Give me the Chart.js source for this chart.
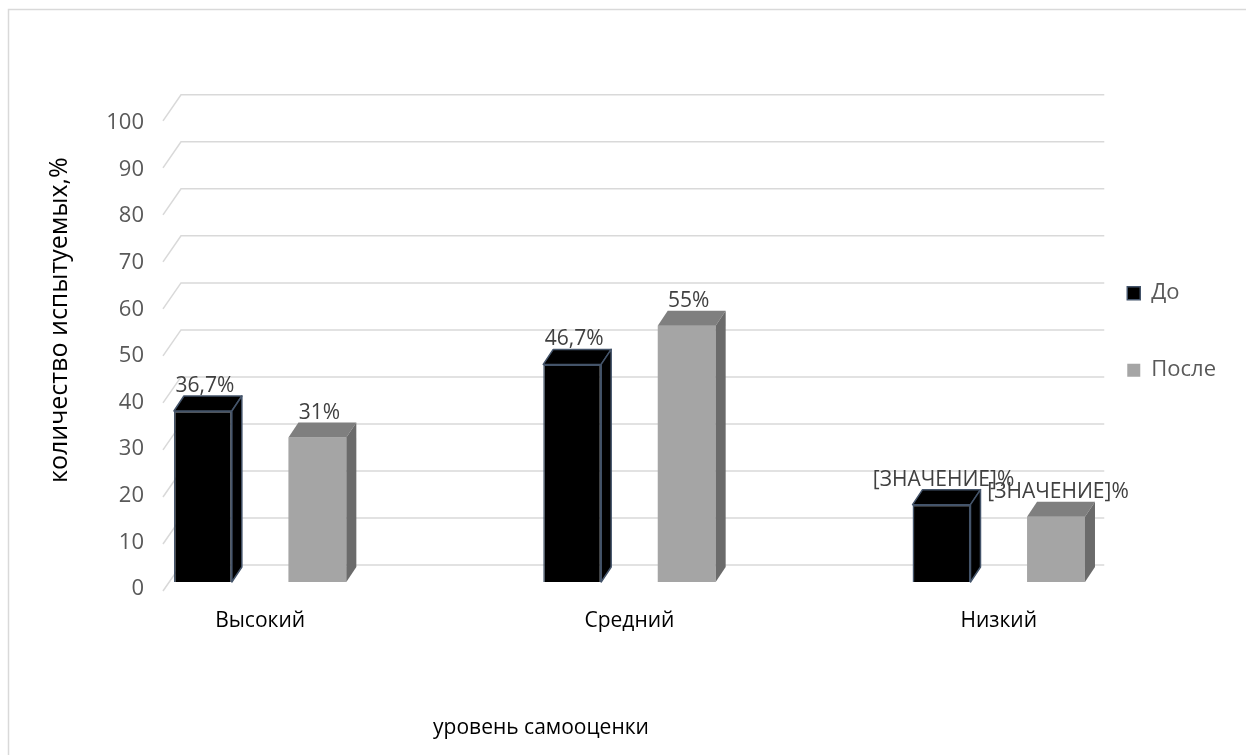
<!DOCTYPE html>
<html lang="ru">
<head>
<meta charset="utf-8">
<title>Уровень самооценки</title>
<script src="https://cdn.jsdelivr.net/npm/chart.js@4.4.1/dist/chart.umd.min.js"></script>
<style>
  html, body { margin: 0; padding: 0; background: #ffffff; }
  #wrap { width: 1246px; height: 755px; position: relative; }
</style>
</head>
<body>
<div id="wrap"><canvas id="chart" width="1246" height="755"></canvas></div>
<script>
// ---- data ----
const categories = ['Высокий', 'Средний', 'Низкий'];
const seriesNames = ['До', 'После'];
const beforeValues = [36.7, 46.7, 16.6];
const afterValues = [31, 55, 14];
// value labels as printed above the bars (the last group shows an unfilled field code)
const beforeLabels = ['36,7%', '46,7%', '[ЗНАЧЕНИЕ]%'];
const afterLabels = ['31%', '55%', '[ЗНАЧЕНИЕ]%'];
const yMin = 0;
const yMax = 100;
const yStep = 10;
const xTitle = 'уровень самооценки';
const yTitle = 'количество испытуемых,%';

// ---- look ----
const FAMILY = '"Open Sans", "Noto Sans", sans-serif';
const FONT = { family: FAMILY, size: 21 };
const TICK_FONT = { family: FAMILY, size: 22 };
const Y_TITLE_SIZE = 25;
const DEPTH = { dx: 10, dy: 15 };              // bar extrusion
const WALL = { dx: 18, dy: 26, back: 17, right: 32, k: 1.009 };
const TITLES = { x: { cx: 541, cy: 728 }, y: { x: 60, start: 483 } };
const faces = [
  { front: '#000000', top: '#000000', side: '#000000', edge: '#44546a', edgeWidth: 1.5 },
  { front: '#a5a5a5', top: '#7f7f7f', side: '#6b6b6b', edge: null, edgeWidth: 0 }
];
const seriesValues = [beforeValues, afterValues];
const seriesLabels = [beforeLabels, afterLabels];

function poly(ctx, pts, fill, edge, w) {
  ctx.beginPath();
  ctx.moveTo(pts[0][0], pts[0][1]);
  for (let i = 1; i < pts.length; i++) ctx.lineTo(pts[i][0], pts[i][1]);
  ctx.closePath();
  ctx.fillStyle = fill;
  ctx.fill();
  if (edge) {
    ctx.strokeStyle = edge;
    ctx.lineWidth = w;
    ctx.lineJoin = 'round';
    ctx.stroke();
  }
}

// outer frame of the chart
const frame = {
  id: 'frame',
  beforeDraw(chart) {
    const ctx = chart.ctx;
    ctx.save();
    ctx.fillStyle = '#ffffff';
    ctx.fillRect(0, 0, chart.width, chart.height);
    ctx.strokeStyle = '#d9d9d9';
    ctx.lineWidth = 1.5;
    ctx.beginPath();
    ctx.moveTo(8.5, chart.height);
    ctx.lineTo(8.5, 9.5);
    ctx.lineTo(chart.width, 9.5);
    ctx.stroke();
    ctx.restore();
  }
};

// back wall + floor-edge gridlines of the 3D box
const walls = {
  id: 'walls',
  beforeDatasetsDraw(chart) {
    const ctx = chart.ctx;
    const ys = chart.scales.y;
    const area = chart.chartArea;
    const zero = ys.getPixelForValue(yMin);
    ctx.save();
    ctx.strokeStyle = '#d9d9d9';
    ctx.lineWidth = 1.5;
    for (let v = yMin; v <= yMax; v += yStep) {
      const p = ys.getPixelForValue(v);
      const back = zero - WALL.back - (zero - p) * WALL.k;
      const front = back + WALL.dy;
      ctx.beginPath();
      ctx.moveTo(area.left, front);
      ctx.lineTo(area.left + WALL.dx, back);
      ctx.lineTo(area.right + WALL.right, back);
      ctx.stroke();
    }
    ctx.restore();
  }
};

// top and side faces of every bar, value labels and axis titles
const bars3d = {
  id: 'bars3d',
  afterDatasetsDraw(chart) {
    const ctx = chart.ctx;
    ctx.save();
    chart.data.datasets.forEach((ds, di) => {
      const meta = chart.getDatasetMeta(di);
      const f = faces[di];
      meta.data.forEach((bar) => {
        const { x, y, base, width } = bar.getProps(['x', 'y', 'base', 'width'], true);
        const l = x - width / 2, r = x + width / 2;
        poly(ctx, [[l, y], [l + DEPTH.dx, y - DEPTH.dy], [r + DEPTH.dx, y - DEPTH.dy], [r, y]], f.top, f.edge, f.edgeWidth);
        poly(ctx, [[r, y], [r + DEPTH.dx, y - DEPTH.dy], [r + DEPTH.dx, base - DEPTH.dy], [r, base]], f.side, f.edge, f.edgeWidth);
      });
    });
    ctx.restore();
  },
  afterDraw(chart) {
    const ctx = chart.ctx;
    ctx.save();
    ctx.font = `${FONT.size}px ${FONT.family}`;
    ctx.fillStyle = '#404040';
    ctx.textAlign = 'center';
    ctx.textBaseline = 'middle';
    chart.data.datasets.forEach((ds, di) => {
      const meta = chart.getDatasetMeta(di);
      meta.data.forEach((bar, i) => {
        const { x, y } = bar.getProps(['x', 'y'], true);
        ctx.fillText(seriesLabels[di][i], x + 2, y - 25);
      });
    });
    // axis titles
    ctx.fillStyle = '#000000';
    ctx.fillText(xTitle, TITLES.x.cx, TITLES.x.cy);
    ctx.font = `${Y_TITLE_SIZE}px ${FAMILY}`;
    ctx.textAlign = 'left';
    ctx.translate(TITLES.y.x, TITLES.y.start);
    ctx.rotate(-Math.PI / 2);
    ctx.fillText(yTitle, 0, 0);
    ctx.restore();
  }
};

const datasets = seriesNames.map((name, di) => ({
  label: name,
  data: seriesValues[di].map((v, i) => ({ x: i, y: v })),
  backgroundColor: faces[di].front,
  borderColor: faces[di].edge || faces[di].front,
  borderWidth: faces[di].edgeWidth,
  categoryPercentage: 0.62,
  barPercentage: 0.506,
  clip: false
}));

new Chart(document.getElementById('chart'), {
  type: 'bar',
  data: { datasets },
  options: {
    responsive: false,
    animation: false,
    events: [],
    layout: { padding: { left: 0, top: 116, right: 20, bottom: 0 } },
    scales: {
      x: {
        type: 'linear',
        offset: false,
        bounds: 'data',
        min: -0.263,
        max: 2.199,
        afterBuildTicks(scale) {
          scale.ticks = categories.map((c, i) => ({ value: i }));
        },
        afterFit(scale) { scale.height = 173; },
        grid: { display: false, drawTicks: false },
        border: { display: false },
        ticks: {
          autoSkip: false,
          maxRotation: 0,
          padding: 26,
          color: '#000000',
          font: FONT,
          callback: (v) => categories[v] ?? ''
        }
      },
      y: {
        min: yMin,
        max: yMax,
        afterFit(scale) { scale.width = 163; },
        grid: { display: false, drawTicks: false },
        border: { display: false },
        ticks: {
          stepSize: yStep,
          padding: 19,
          labelOffset: 7,
          color: '#595959',
          font: TICK_FONT
        }
      }
    },
    plugins: {
      tooltip: { enabled: false },
      legend: {
        position: 'right',
        fullSize: false,
        align: 'start',
        title: { display: true, text: '', font: { size: 1 }, padding: { top: 110, bottom: 0 } },
        labels: {
          boxWidth: 13,
          boxHeight: 13,
          padding: 55,
          color: '#595959',
          font: TICK_FONT
        }
      }
    }
  },
  plugins: [frame, walls, bars3d]
});
</script>
</body>
</html>
